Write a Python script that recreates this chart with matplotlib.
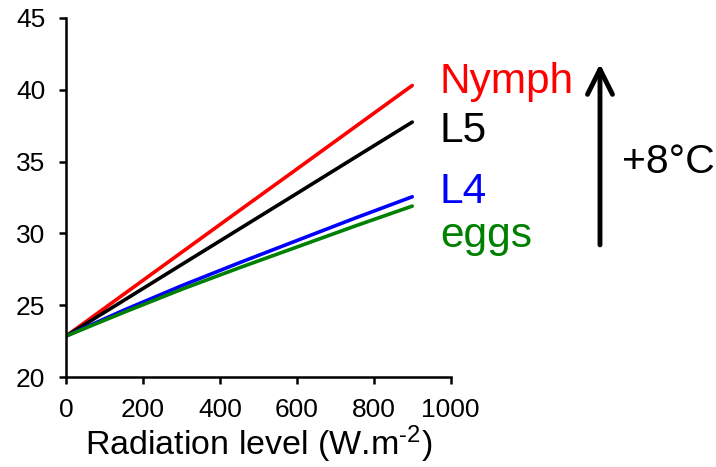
import matplotlib
matplotlib.use('Agg')
import matplotlib.pyplot as plt

plt.rcParams['font.family'] = ['Liberation Sans', 'DejaVu Sans']
plt.rcParams['mathtext.fontset'] = 'custom'
plt.rcParams['mathtext.rm'] = 'Liberation Sans'
plt.rcParams['mathtext.it'] = 'Liberation Sans'

radiation = [0, 150, 300, 450, 600, 750, 900]
nymph = [22.85, 25.76, 28.67, 31.58, 34.48, 37.39, 40.3]
l5 = [22.85, 25.33, 27.82, 30.30, 32.78, 35.27, 37.75]
l4 = [22.85, 24.65, 26.35, 27.95, 29.5, 31.05, 32.55]
eggs = [22.85, 24.5, 26.1, 27.6, 29.05, 30.5, 31.9]

stages = ['Nymph', 'L5', 'L4', 'eggs']
colors = ['#ff0000', '#000000', '#0000ff', '#008000']
label_y = [39.77, 36.39, 32.1, 29.05]

fig = plt.figure(figsize=(7.16, 4.67), dpi=100)
ax = fig.add_axes([0.0922, 0.1927, 0.5373, 0.7688])

for series, c in zip([nymph, l5, l4, eggs], colors):
    ax.plot(radiation, series, color=c, linewidth=2.6, solid_capstyle='round')

ax.set_xlim(0, 1000)
ax.set_ylim(20, 45)
ax.set_xticks(range(0, 1001, 200))
ax.set_yticks(range(20, 46, 5))
ax.spines['top'].set_visible(False)
ax.spines['right'].set_visible(False)
for s in ['left', 'bottom']:
    ax.spines[s].set_linewidth(1.8)
ax.tick_params(width=1.8, length=5, labelsize=19, direction='out')
ax.tick_params(axis='y', pad=10)
ax.tick_params(axis='x', pad=10)
ax.set_xlabel('Radiation level (W.m$^{\\text{-}2}$)', fontsize=24.5, labelpad=1)

for name, c, y in zip(stages, colors, label_y):
    ax.text(972, y, name, color=c, fontsize=30.5, va='baseline', ha='left', clip_on=False)

ax.annotate('', xy=(1388, 41.8), xytext=(1388, 29.2),
            arrowprops=dict(arrowstyle='->,head_length=1.8,head_width=0.9',
                            color='black', linewidth=3.5, shrinkA=0, shrinkB=0),
            annotation_clip=False)
ax.text(1444, 35.0, '+8°C', fontsize=29.5, va='center', ha='left', clip_on=False)

fig.savefig('out.png', dpi=100)
